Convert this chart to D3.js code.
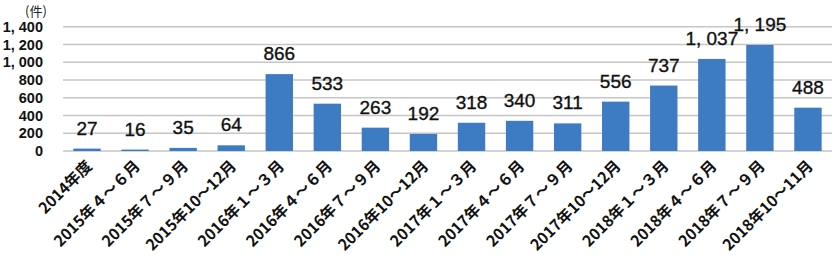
<!DOCTYPE html>
<html><head><meta charset="utf-8">
<script src="https://cdn.jsdelivr.net/npm/d3@7"></script>
<style>body{margin:0;background:#fff}svg{display:block}</style>
</head><body>
<script>
const categories = ["2014年度","2015年４～６月","2015年７～９月","2015年10～12月","2016年１～３月","2016年４～６月","2016年７～９月","2016年10～12月","2017年１～３月","2017年４～６月","2017年７～９月","2017年10～12月","2018年１～３月","2018年４～６月","2018年７～９月","2018年10～11月"];
const values = [27,16,35,64,866,533,263,192,318,340,311,556,737,1037,1195,488];
const yTicks = [0,200,400,600,800,1000,1200,1400];
const yUnit = "(件)";

const W = 838, H = 255;
const svg = d3.select("body").append("svg").attr("width", W).attr("height", H);
const x = d3.scaleBand().domain(categories).range([63, 832]).paddingInner(0.43).paddingOuter(0.215);
const y = d3.scaleLinear().domain([0, 1400]).range([151, 26.7]);
const fmt = v => v >= 1000 ? d3.format(",")(v).replace(",", ", ") : String(v);

// gridlines
svg.append("g").selectAll("line").data(yTicks).join("line")
  .attr("x1", 63).attr("x2", 832)
  .attr("y1", d => y(d)).attr("y2", d => y(d))
  .attr("stroke", "#c6c6c6").attr("stroke-width", 1.5);

// y axis labels
const yAxis = d3.axisLeft(y).tickValues(yTicks).tickSize(0).tickPadding(0).tickFormat(fmt);
const gy = svg.append("g").attr("transform", "translate(43,0)").call(yAxis);
gy.select(".domain").remove();
gy.selectAll("text").attr("font-family", "Liberation Sans, Arial, sans-serif")
  .attr("font-size", 14.5).attr("font-weight", "bold").attr("fill", "#111");

svg.append("text").attr("x", 36).attr("y", 16).attr("text-anchor", "middle")
  .attr("font-family", "Noto Sans CJK JP").attr("font-size", 13).attr("fill", "#222").text(yUnit);

// bars
svg.append("g").selectAll("rect").data(values).join("rect")
  .attr("x", (d, i) => x(categories[i])).attr("width", x.bandwidth())
  .attr("y", d => y(d)).attr("height", d => y(0) - y(d))
  .attr("fill", "#3d7cc3");

// value labels
svg.append("g").selectAll("text").data(values).join("text")
  .attr("x", (d, i) => x(categories[i]) + x.bandwidth() / 2)
  .attr("y", d => y(d) - 14)
  .attr("text-anchor", "middle")
  .attr("font-family", "Liberation Sans, Arial, sans-serif")
  .attr("font-size", 19).attr("fill", "#111")
  .attr("stroke", "#111").attr("stroke-width", 0.35)
  .text(fmt);

// x axis labels
const xAxis = d3.axisBottom(x).tickSize(0).tickPadding(0);
const gx = svg.append("g").attr("transform", "translate(0,151)").call(xAxis);
gx.select(".domain").remove();
gx.selectAll("text")
  .attr("font-family", "Noto Sans CJK JP").attr("font-size", 15.5).attr("font-weight", "bold")
  .attr("fill", "#111").attr("text-anchor", "end")
  .attr("dy", 0).attr("y", 0)
  .attr("transform", "translate(6,16) rotate(-45)");
</script>
</body></html>
